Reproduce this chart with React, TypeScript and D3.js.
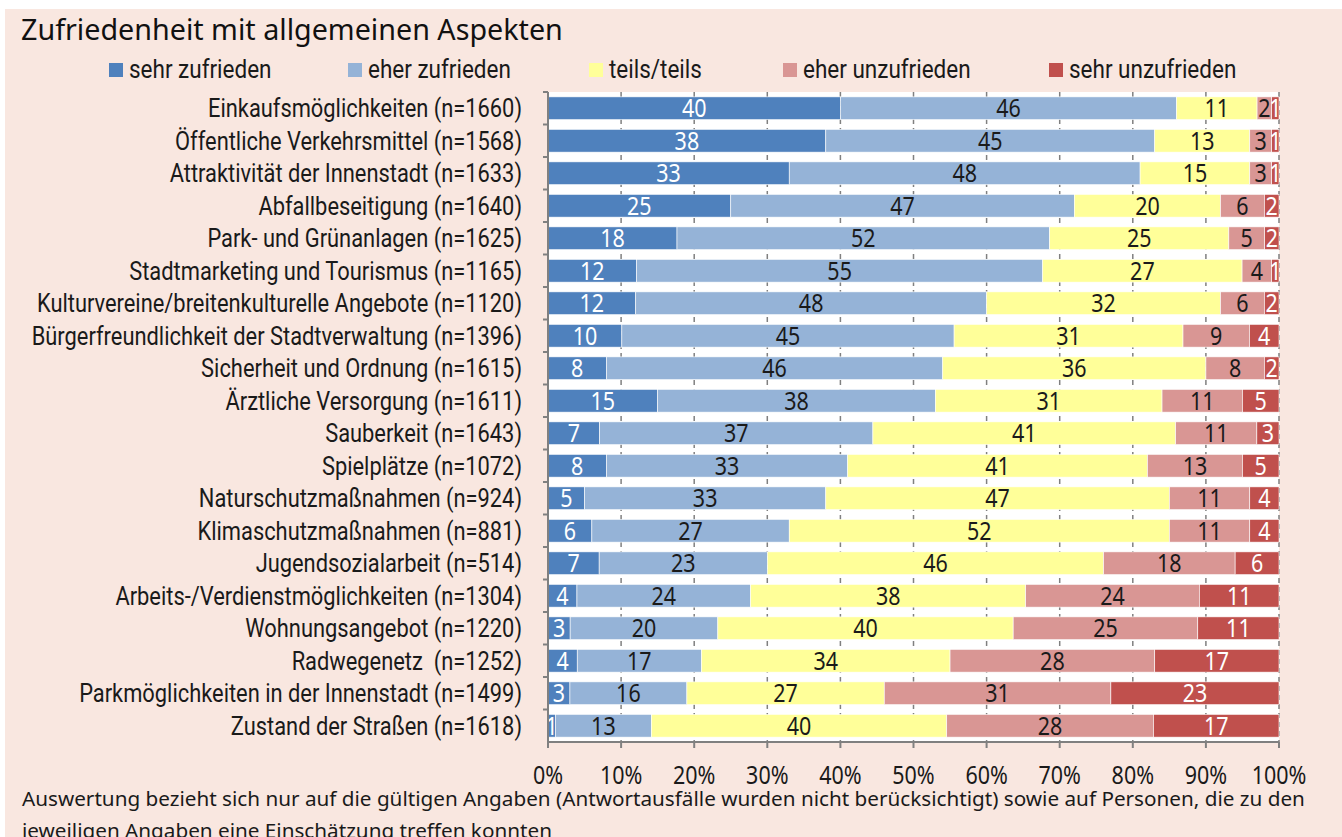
import { scaleLinear, scaleBand, stack } from "d3";

// categories (top to bottom)
const categories = [
  "Einkaufsmöglichkeiten (n=1660)",
  "Öffentliche Verkehrsmittel (n=1568)",
  "Attraktivität der Innenstadt (n=1633)",
  "Abfallbeseitigung (n=1640)",
  "Park- und Grünanlagen (n=1625)",
  "Stadtmarketing und Tourismus (n=1165)",
  "Kulturvereine/breitenkulturelle Angebote (n=1120)",
  "Bürgerfreundlichkeit der Stadtverwaltung (n=1396)",
  "Sicherheit und Ordnung (n=1615)",
  "Ärztliche Versorgung (n=1611)",
  "Sauberkeit (n=1643)",
  "Spielplätze (n=1072)",
  "Naturschutzmaßnahmen (n=924)",
  "Klimaschutzmaßnahmen (n=881)",
  "Jugendsozialarbeit (n=514)",
  "Arbeits-/Verdienstmöglichkeiten (n=1304)",
  "Wohnungsangebot (n=1220)",
  "Radwegenetz  (n=1252)",
  "Parkmöglichkeiten in der Innenstadt (n=1499)",
  "Zustand der Straßen (n=1618)",
];

const seriesNames = ["sehr zufrieden", "eher zufrieden", "teils/teils", "eher unzufrieden", "sehr unzufrieden"];

// percentages per series, same order as categories
const sehrZufrieden = [40, 38, 33, 25, 18, 12, 12, 10, 8, 15, 7, 8, 5, 6, 7, 4, 3, 4, 3, 1];
const eherZufrieden = [46, 45, 48, 47, 52, 55, 48, 45, 46, 38, 37, 33, 33, 27, 23, 24, 20, 17, 16, 13];
const teilsTeils = [11, 13, 15, 20, 25, 27, 32, 31, 36, 31, 41, 41, 47, 52, 46, 38, 40, 34, 27, 40];
const eherUnzufrieden = [2, 3, 3, 6, 5, 4, 6, 9, 8, 11, 11, 13, 11, 11, 18, 24, 25, 28, 31, 28];
const sehrUnzufrieden = [1, 1, 1, 2, 2, 1, 2, 4, 2, 5, 3, 5, 4, 4, 6, 11, 11, 17, 23, 17];

const tickValues = [0, 10, 20, 30, 40, 50, 60, 70, 80, 90, 100];

const colors = ["#4F81BD", "#95B3D7", "#FFFF99", "#D99694", "#C0504D"];
const labelColors = ["#ffffff", "#1a1a1a", "#1a1a1a", "#1a1a1a", "#ffffff"];
const legendX = [109, 348, 589, 783, 1049];

const W = 1342;
const H = 837;
const font = "'Noto Sans', 'Open Sans', sans-serif";
const narrowFont = "Roboto, 'Noto Sans', sans-serif";
// no condensed font installed, so squeeze the glyphs horizontally
const FS = 25;

// condensed-looking text
const CText = ({ x, y, anchor = "start", fill = "#1a1a1a", sq = 0.86, ff = font, children }: any) => (
  <text
    transform={`translate(${x},${y}) scale(${sq},1)`}
    textAnchor={anchor}
    fontFamily={ff}
    fontSize={FS}
    fill={fill}
    style={{ whiteSpace: "pre" }}
  >
    {children}
  </text>
);

const App = () => {
  const allSeries = [sehrZufrieden, eherZufrieden, teilsTeils, eherUnzufrieden, sehrUnzufrieden];
  const rows = categories.map((c, i) => {
    const vals = allSeries.map((s) => s[i]);
    const total = vals.reduce((a, b) => a + b, 0);
    const row: any = { cat: c };
    seriesNames.forEach((k, j) => {
      row[k] = (vals[j] / total) * 100;
      row[k + "_raw"] = vals[j];
    });
    return row;
  });
  const stacked = stack().keys(seriesNames)(rows);

  const x = scaleLinear().domain([0, 100]).range([548, 1279]);
  const y = scaleBand().domain(categories).range([92, 742]).paddingInner(0.3).paddingOuter(0.15);
  const step = y.step();
  const bw = y.bandwidth();

  return (
    <svg width={W} height={H} style={{ display: "block" }}>
      <style>{`body{margin:0;overflow:hidden}`}</style>
      <rect x={0} y={0} width={W} height={H} fill="#ffffff" />
      <rect x={5} y={9} width={W - 5} height={H - 9} fill="#F9E7E0" />

      {/* title */}
      <text x={21} y={40} fontFamily={font} fontSize={28.7} fill="#111">
        Zufriedenheit mit allgemeinen Aspekten
      </text>

      {/* legend */}
      {seriesNames.map((s, i) => (
        <g key={s}>
          <rect x={legendX[i]} y={63} width={14} height={14} fill={colors[i]} />
          <CText x={legendX[i] + 20} y={78} ff={narrowFont} sq={0.9}>
            {s}
          </CText>
        </g>
      ))}

      {/* plot area */}
      <rect x={x(0)} y={92} width={x(100) - x(0)} height={650} fill="#ffffff" />
      {tickValues.map((t) => (
        <line key={t} x1={x(t)} x2={x(t)} y1={92} y2={742} stroke="#808080" strokeWidth={1.5} strokeDasharray="5,4" />
      ))}

      {/* bars */}
      {stacked.map((layer, si) =>
        layer.map((d, ci) => {
          const x0 = x(d[0]);
          const x1 = x(d[1]);
          const yy = y(categories[ci]) as number;
          const raw = (d.data as any)[seriesNames[si] + "_raw"];
          return (
            <g key={si + "-" + ci}>
              <rect x={x0} y={yy} width={x1 - x0} height={bw} fill={colors[si]} stroke="#ffffff" strokeWidth={0.6} />
              <CText x={(x0 + x1) / 2} y={yy + bw / 2 + 9} anchor="middle" fill={labelColors[si]}>
                {raw}
              </CText>
            </g>
          );
        })
      )}

      {/* y axis */}
      <line x1={x(0)} x2={x(0)} y1={92} y2={742} stroke="#808080" strokeWidth={2} />
      {categories.map((c, i) => (
        <line key={"yt" + i} x1={x(0) - 5} x2={x(0)} y1={92 + i * step} y2={92 + i * step} stroke="#808080" strokeWidth={2} />
      ))}
      {categories.map((c) => (
        <CText key={"yl" + c} x={522} y={(y(c) as number) + bw / 2 + 9} anchor="end" ff={narrowFont} sq={0.875}>
          {c}
        </CText>
      ))}

      {/* x axis */}
      <line x1={x(0)} x2={x(100)} y1={742} y2={742} stroke="#808080" strokeWidth={2} />
      {tickValues.map((t) => (
        <g key={"xt" + t}>
          <line x1={x(t)} x2={x(t)} y1={742} y2={748} stroke="#808080" strokeWidth={2} />
          <CText x={x(t)} y={784} anchor="middle">
            {t + "%"}
          </CText>
        </g>
      ))}

      {/* footnote */}
      <text x={22} y={806} fontFamily={font} fontSize={20.7} fill="#1a1a1a">
        Auswertung bezieht sich nur auf die gültigen Angaben (Antwortausfälle wurden nicht berücksichtigt) sowie auf Personen, die zu den
      </text>
      <text x={22} y={838} fontFamily={font} fontSize={20.7} fill="#1a1a1a">
        jeweiligen Angaben eine Einschätzung treffen konnten
      </text>
    </svg>
  );
};

export default App;
